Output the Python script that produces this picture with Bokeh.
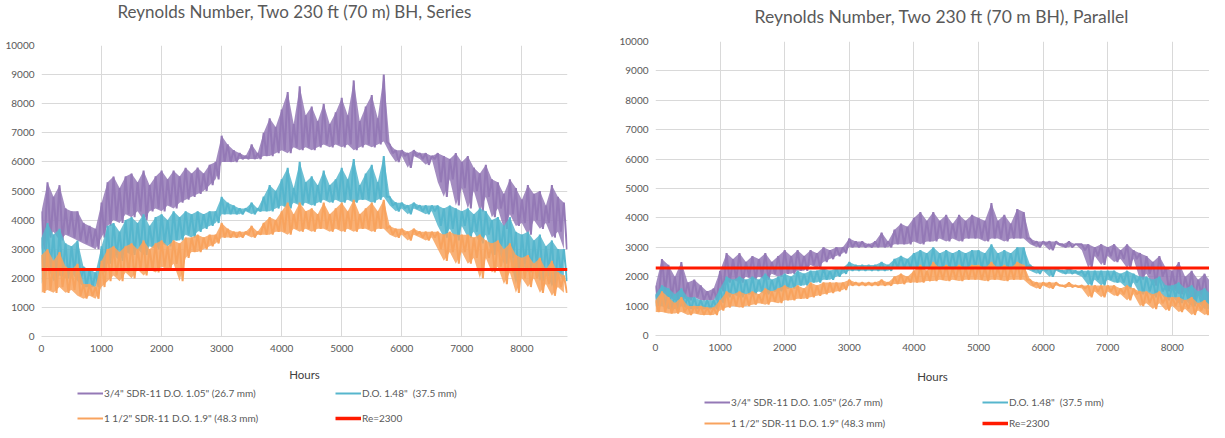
from bokeh.plotting import figure
from bokeh.models import Legend, LegendItem, FixedTicker, Range1d, Label
from bokeh.layouts import row, column
from bokeh.embed import file_html
from bokeh.resources import INLINE

# ---------------- data (per 100 hours: band peak / band trough) -------------
HOURS = list(range(0, 8800, 100))

SER_PURPLE_HI = [4300, 5300, 4800, 5200, 4400, 4300, 4300, 3900, 3800, 3700,
                 4600, 5300, 5500, 5100, 5500, 5600, 5300, 5700, 5200, 5500,
                 5700, 5400, 5700, 5500, 5800, 5600, 5800, 5600, 5900, 6000,
                 6900, 6600, 6400, 6300, 6200, 6600, 6300, 7000, 7500, 7200,
                 7800, 8400, 7300, 8600, 7600, 7900, 7400, 8000, 7300, 7700,
                 8200, 7600, 8800, 7400, 7900, 8300, 7500, 9000, 6600, 6400,
                 6400, 6300, 6400, 6300, 6300, 6200, 6300, 6200, 6100, 6300,
                 6000, 6200, 5800, 5600, 5900, 5400, 5300, 4900, 5400, 5100,
                 4700, 5200, 4900, 5000, 4500, 5200, 4800, 4600]
SER_PURPLE_LO = [3000, 3400, 3600, 3300, 3500, 3400, 3300, 3200, 3100, 3000,
                 3400, 3800, 4000, 3900, 4200, 4100, 4300, 4000, 4300, 4400,
                 4300, 4500, 4400, 4600, 4700, 4800, 4900, 5000, 5200, 5400,
                 6000, 6000, 6000, 6100, 6100, 6100, 6100, 6200, 6200, 6300,
                 6400, 6300, 6500, 6400, 6500, 6400, 6500, 6600, 6500, 6600,
                 6500, 6600, 6400, 6500, 6600, 6500, 6600, 6700, 6300, 6000,
                 6200, 5800, 6200, 6100, 5900, 6100, 5300, 4800, 5400, 4500,
                 5100, 4400, 5000, 4300, 4800, 4100, 4400, 3700, 4200, 3800,
                 3900, 3500, 4000, 3700, 3900, 3400, 3600, 3000]
SER_CYAN_HI = [3400, 3900, 3500, 3700, 3200, 3100, 3300, 2400, 2300, 2200,
               3100, 3800, 3900, 3600, 4000, 4100, 3900, 4200, 3800, 4100,
               4200, 4000, 4300, 4100, 4300, 4200, 4300, 4200, 4300, 4300,
               4800, 4600, 4500, 4400, 4400, 4600, 4400, 4800, 5200, 5000,
               5400, 5800, 5100, 6000, 5300, 5500, 5200, 5700, 5200, 5400,
               5800, 5400, 6100, 5200, 5600, 5900, 5300, 6200, 4800, 4600,
               4600, 4500, 4600, 4500, 4500, 4500, 4500, 4400, 4500, 4400,
               4300, 4400, 4200, 4400, 4300, 4000, 4100, 3800, 4100, 3600,
               3500, 3600, 3300, 3500, 3100, 3300, 3000, 3000]
SER_CYAN_LO = [1800, 2400, 1900, 2100, 2000, 2200, 1900, 1700, 1700, 1700,
               2200, 2500, 2800, 2600, 2900, 2800, 3000, 2800, 3100, 3000,
               3200, 3100, 3300, 3300, 3500, 3400, 3600, 3700, 3800, 3900,
               4200, 4200, 4200, 4200, 4300, 4200, 4300, 4300, 4300, 4400,
               4500, 4400, 4600, 4500, 4600, 4500, 4600, 4700, 4600, 4700,
               4600, 4700, 4600, 4700, 4700, 4600, 4700, 4800, 4500, 4300,
               4400, 4200, 4400, 4300, 4200, 4300, 3800, 3400, 3700, 3300,
               3800, 3400, 3600, 3200, 3500, 2800, 3000, 2500, 2700, 1800,
               2500, 2200, 2500, 1900, 2300, 1700, 2200, 1900]
SER_ORANGE_HI = [2800, 3000, 2600, 2900, 2400, 2300, 2500, 1800, 1800, 1700,
                 2600, 3000, 3100, 2900, 3100, 3200, 3000, 3300, 3000, 3200,
                 3300, 3100, 3300, 3200, 3400, 3400, 3500, 3400, 3500, 3500,
                 3900, 3700, 3600, 3600, 3600, 3800, 3600, 3900, 4100, 4000,
                 4300, 4600, 4200, 4600, 4300, 4400, 4200, 4600, 4200, 4400,
                 4600, 4300, 4700, 4200, 4400, 4600, 4300, 4700, 3800, 3700,
                 3700, 3600, 3700, 3600, 3600, 3600, 3600, 3500, 3600, 3500,
                 3500, 3500, 3400, 3500, 3300, 3200, 3300, 3000, 3200, 2800,
                 2700, 2800, 2500, 2700, 2300, 2600, 2200, 2100]
SER_ORANGE_LO = [1500, 1600, 1500, 1700, 1500, 1600, 1400, 1300, 1400, 1300,
                 1700, 1900, 2100, 1900, 2200, 2000, 2300, 2100, 2300, 2200,
                 2400, 2300, 2500, 1900, 2700, 2900, 2900, 3000, 3100, 3200,
                 3400, 3400, 3400, 3400, 3500, 3400, 3500, 3500, 3500, 3600,
                 3600, 3500, 3700, 3600, 3700, 3600, 3700, 3700, 3600, 3700,
                 3600, 3700, 3600, 3700, 3700, 3600, 3700, 3700, 3500, 3400,
                 3500, 3300, 3500, 3400, 3300, 3400, 3000, 2600, 2900, 2500,
                 2900, 2500, 2700, 2000, 2700, 2200, 2400, 1800, 2200, 1500,
                 2000, 1700, 2000, 1500, 1800, 1400, 1700, 1500]

PAR_PURPLE_HI = [1700, 2600, 2400, 2000, 2500, 1800, 1900, 1700, 1500, 1600,
                 2200, 2800, 2600, 2800, 2500, 2700, 2600, 2800, 2500, 2700,
                 2900, 2700, 2900, 2700, 2900, 2800, 3000, 2900, 3000, 3000,
                 3300, 3200, 3200, 3100, 3200, 3500, 3200, 3600, 3800, 3700,
                 4000, 4200, 3900, 4200, 3900, 4100, 3800, 4100, 3900, 4100,
                 4000, 3900, 4500, 3900, 4100, 3800, 4300, 4200, 3300, 3200,
                 3200, 3200, 3200, 3100, 3200, 3100, 3100, 3100, 3000, 3100,
                 3000, 3100, 2900, 3100, 2900, 2800, 2700, 2500, 2700, 2300,
                 2200, 2500, 2000, 2200, 1900, 2100, 1800, 1700]
PAR_PURPLE_LO = [1200, 1500, 1300, 1200, 1300, 1200, 1300, 1200, 1200, 1200,
                 1500, 1800, 1900, 1800, 2000, 1900, 2000, 1900, 2100, 2000,
                 2100, 2100, 2200, 2200, 2400, 2300, 2500, 2600, 2700, 2800,
                 3000, 3000, 3000, 3000, 3000, 3000, 3000, 3100, 3100, 3100,
                 3200, 3100, 3200, 3200, 3300, 3200, 3300, 3200, 3300, 3300,
                 3300, 3200, 3300, 3300, 3200, 3300, 3300, 3300, 3100, 3000,
                 3100, 2900, 3100, 3000, 3000, 3100, 2900, 2300, 2700, 2400,
                 2700, 2500, 2600, 2300, 2600, 1900, 2100, 1700, 2000, 1500,
                 1600, 1400, 1500, 1200, 1400, 1100, 1300, 1100]
PAR_CYAN_HI = [1400, 1700, 1600, 1400, 1600, 1300, 1300, 1200, 1200, 1200,
               1600, 2000, 1900, 2000, 1900, 2000, 1900, 2100, 1900, 2000,
               2100, 2000, 2200, 2100, 2200, 2200, 2300, 2200, 2300, 2300,
               2500, 2400, 2400, 2400, 2400, 2500, 2400, 2600, 2700, 2600,
               2800, 2900, 2800, 3000, 2800, 2900, 2800, 2900, 2800, 2900,
               2900, 2800, 3100, 2800, 2900, 2800, 3000, 3000, 2400, 2300,
               2300, 2300, 2300, 2200, 2300, 2200, 2200, 2200, 2200, 2200,
               2200, 2200, 2100, 2200, 2100, 2000, 2000, 1900, 2000, 1700,
               1700, 1800, 1600, 1700, 1500, 1600, 1400, 1400]
PAR_CYAN_LO = [1000, 1000, 900, 900, 1000, 900, 900, 900, 900, 900,
               1100, 1300, 1400, 1300, 1400, 1400, 1500, 1400, 1500, 1500,
               1600, 1600, 1700, 1700, 1800, 1800, 1900, 1900, 2000, 2100,
               2200, 2200, 2200, 2200, 2200, 2200, 2200, 2300, 2300, 2300,
               2300, 2300, 2300, 2300, 2300, 2300, 2300, 2300, 2300, 2300,
               2300, 2300, 2300, 2300, 2300, 2300, 2300, 2300, 2200, 2100,
               2200, 2000, 2200, 2100, 2100, 2100, 2000, 1700, 1900, 1700,
               1900, 1800, 1800, 1600, 1800, 1400, 1500, 1300, 1500, 1200,
               1300, 1100, 1200, 1000, 1100, 900, 1000, 900]
PAR_ORANGE_HI = [1200, 1500, 1300, 1100, 1300, 1000, 1000, 1000, 950, 950,
                 1200, 1500, 1400, 1500, 1400, 1500, 1400, 1600, 1500, 1600,
                 1700, 1600, 1700, 1600, 1800, 1700, 1800, 1800, 1800, 1800,
                 1900, 1800, 1800, 1800, 1800, 1900, 1800, 2000, 2100, 2000,
                 2200, 2400, 2200, 2500, 2300, 2400, 2300, 2400, 2300, 2400,
                 2400, 2300, 2500, 2300, 2400, 2300, 2500, 2400, 1900, 1800,
                 1800, 1800, 1800, 1700, 1800, 1700, 1700, 1700, 1700, 1700,
                 1700, 1700, 1600, 1700, 1600, 1500, 1500, 1400, 1500, 1300,
                 1300, 1300, 1200, 1300, 1100, 1200, 1000, 1000]
PAR_ORANGE_LO = [800, 800, 750, 750, 800, 700, 750, 700, 700, 700,
                 850, 950, 1000, 950, 1000, 1050, 1100, 1050, 1150, 1100,
                 1200, 1200, 1250, 1250, 1300, 1350, 1400, 1450, 1500, 1550,
                 1700, 1700, 1700, 1700, 1700, 1700, 1700, 1750, 1750, 1800,
                 1800, 1800, 1850, 1850, 1900, 1850, 1900, 1850, 1900, 1900,
                 1900, 1850, 1900, 1900, 1850, 1900, 1900, 1900, 1700, 1600,
                 1700, 1600, 1700, 1650, 1650, 1650, 1600, 1300, 1500, 1300,
                 1500, 1350, 1400, 1200, 1400, 1000, 1100, 900, 1100, 850,
                 1000, 800, 900, 700, 850, 700, 800, 650]

RE_CRIT = 2300
X_TICKS = [0, 1000, 2000, 3000, 4000, 5000, 6000, 7000, 8000]
Y_TICKS = [0, 1000, 2000, 3000, 4000, 5000, 6000, 7000, 8000, 9000, 10000]

LABELS = ['3/4" SDR-11 D.O. 1.05" (26.7 mm)', 'D.O. 1.48"  (37.5 mm)',
          '1 1/2" SDR-11 D.O. 1.9" (48.3 mm)', 'Re=2300']
TITLES = ["Reynolds Number,  Two 230 ft (70 m) BH, Series",
          "Reynolds Number, Two 230 ft (70 m BH), Parallel"]

PURPLE = "#9479b6"
CYAN = "#56b6cd"
ORANGE = "#f8a35e"
RED = "#ff1a00"
GRID = "#d9d9d9"
TXT = "#595959"
FONT = "Lato"
COLORS = [PURPLE, CYAN, ORANGE]

TITLE_H = 30
BOTTOM_B = 52


def zigzag(hi, lo):
    xs, ys = [], []
    for h, a, b in zip(HOURS, hi, lo):
        xs += [h, h + 50]
        ys += [a, b]
    return xs, ys


def strip(width, height, bl, br):
    q = figure(width=width, height=height, output_backend="svg", toolbar_location=None,
               x_axis_location=None, y_axis_location=None,
               x_range=Range1d(-3, -2), y_range=Range1d(-3, -2),
               min_border_left=bl, min_border_right=br,
               min_border_top=0, min_border_bottom=0)
    q.outline_line_color = None
    q.xgrid.visible = False
    q.ygrid.visible = False
    return q


def make_title(text, width, bl, br, x, y, size):
    q = strip(width, TITLE_H, bl, br)
    q.add_layout(Label(x=x, y=y, x_units="screen", y_units="screen", text=text,
                       text_align="left", text_baseline="middle", text_font=FONT,
                       text_font_size=size, text_color=TXT))
    return q


def make_chart(series, width, xmax, bl, bt, fh, fw, hours_standoff):
    br = width - bl - fw
    p = figure(width=width, height=bt + fh + BOTTOM_B, output_backend="svg",
               toolbar_location=None, x_range=Range1d(0, xmax), y_range=Range1d(0, 10000),
               min_border_left=bl, min_border_top=bt,
               min_border_right=br, min_border_bottom=BOTTOM_B)
    p.title.visible = False
    p.outline_line_color = None
    p.background_fill_color = "white"
    p.border_fill_color = "white"

    for ax in (p.xaxis, p.yaxis):
        ax.major_tick_line_color = None
        ax.minor_tick_line_color = None
        ax.major_tick_out = 0
        ax.major_tick_in = 0
        ax.minor_tick_out = 0
        ax.minor_tick_in = 0
        ax.major_label_text_color = TXT
        ax.major_label_text_font = FONT
        ax.major_label_text_font_size = "10px"
    p.xaxis.ticker = FixedTicker(ticks=X_TICKS)
    p.yaxis.ticker = FixedTicker(ticks=Y_TICKS)
    p.xaxis.axis_line_color = GRID
    p.yaxis.axis_line_color = None
    p.xaxis.major_label_standoff = 8
    p.yaxis.major_label_standoff = 7
    p.xaxis.axis_label = "Hours"
    p.xaxis.axis_label_standoff = hours_standoff
    p.xaxis.axis_label_text_font = FONT
    p.xaxis.axis_label_text_font_size = "11.5px"
    p.xaxis.axis_label_text_font_style = "normal"
    p.xaxis.axis_label_text_color = "#404040"
    p.xgrid.ticker = FixedTicker(ticks=X_TICKS)
    p.ygrid.ticker = FixedTicker(ticks=Y_TICKS)
    p.xgrid.grid_line_color = GRID
    p.ygrid.grid_line_color = GRID

    for (hi, lo), col in zip(series, COLORS):
        p.varea(x=HOURS, y1=lo, y2=hi, fill_color=col, fill_alpha=0.85)
        xs, ys = zigzag(hi, lo)
        p.line(xs, ys, line_color=col, line_width=2)
    p.line([0, 8760], [RE_CRIT, RE_CRIT], line_color=RED, line_width=3)
    return p


def make_legend(width, height, bl, br, series, positions):
    # legend strip: the series are plotted again outside its (invisible) ranges,
    # only so that the legend keys have real renderers to draw.
    q = strip(width, height, bl, br)
    rends = []
    for (hi, lo), col in zip(series, COLORS):
        rends.append(q.line(HOURS, hi, line_color=col, line_width=2))
    rends.append(q.line([0, 8760], [RE_CRIT, RE_CRIT], line_color=RED, line_width=3.5))
    for lab, r, (lx, ly) in zip(LABELS, rends, positions):
        lg = Legend(items=[LegendItem(label=lab, renderers=[r])], location=(lx, ly),
                    padding=0, margin=0, spacing=0, border_line_color=None,
                    background_fill_alpha=0, glyph_width=26, glyph_height=12,
                    label_height=12, label_standoff=1,
                    label_text_font=FONT, label_text_font_size="10px",
                    label_text_color=TXT)
        q.add_layout(lg)
    return q


SER = [(SER_PURPLE_HI, SER_PURPLE_LO), (SER_CYAN_HI, SER_CYAN_LO), (SER_ORANGE_HI, SER_ORANGE_LO)]
PAR = [(PAR_PURPLE_HI, PAR_PURPLE_LO), (PAR_CYAN_HI, PAR_CYAN_LO), (PAR_ORANGE_HI, PAR_ORANGE_LO)]

# ---- left panel (Series)
LW, LBL, LFW = 600, 41, 526
LBR = LW - LBL - LFW
l_title = make_title(TITLES[0], LW, LBL, LBR, x=76, y=19, size="17px")
l_chart = make_chart(SER, LW, 8760, LBL, bt=15, fh=291, fw=LFW, hours_standoff=13)
l_leg_h = 430 - TITLE_H - (15 + 291 + BOTTOM_B)
l_leg = make_legend(LW, l_leg_h, LBL, LBR, SER, [(36, 31), (294, 31), (36, 6), (294, 6)])

# ---- right panel (Parallel)
RW, RBL, RFW = 609, 55, 554
RBR = RW - RBL - RFW
r_title = make_title(TITLES[1], RW, RBL, RBR, x=99, y=14, size="17.5px")
r_chart = make_chart(PAR, RW, 8576, RBL, bt=11, fh=294, fw=RFW, hours_standoff=16)
r_leg_h = 430 - TITLE_H - (11 + 294 + BOTTOM_B)
r_leg = make_legend(RW, r_leg_h, RBL, RBR, PAR, [(49, 22), (327, 22), (49, 1), (327, 1)])

layout = row(column(l_title, l_chart, l_leg, spacing=0),
             column(r_title, r_chart, r_leg, spacing=0), spacing=0)
open("out.html", "w").write(file_html(layout, INLINE))
